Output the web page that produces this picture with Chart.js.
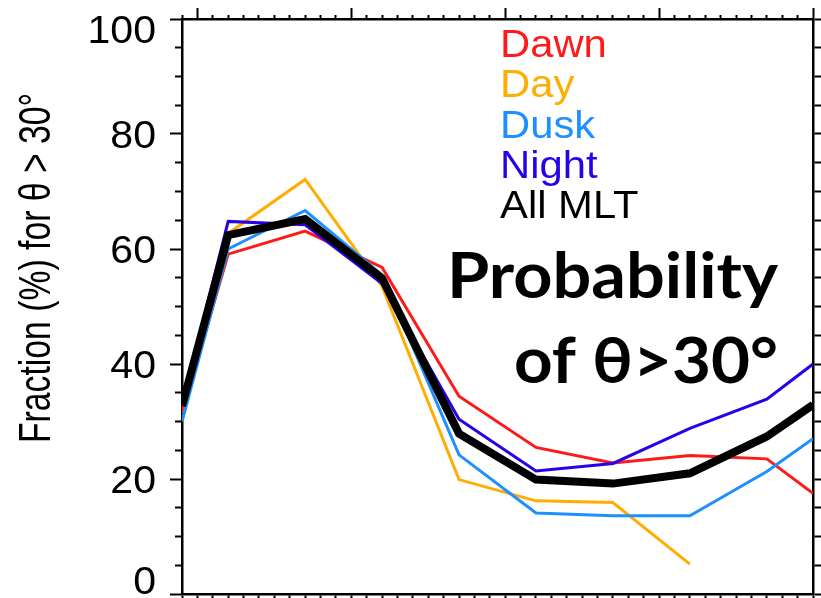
<!DOCTYPE html>
<html>
<head>
<meta charset="utf-8">
<script src="https://cdn.jsdelivr.net/npm/chart.js@4/dist/chart.umd.min.js"></script>
<style>
  html, body { margin: 0; padding: 0; background: #fff; }
  #wrap { width: 821px; height: 598px; }
</style>
</head>
<body>
<div id="wrap"><canvas id="c" width="821" height="598"></canvas></div>
<script>
// Bin positions along the horizontal axis; the first and last entries sit on the frame edges.
const xBins   = [-1, 2, 7, 12, 17, 22, 27, 32, 37, 40];
// Fraction (%) of events with theta > 30 deg, per MLT sector
const dawn    = [31.5, 59.1, 63.1, 56.8, 34.4, 25.5, 22.8, 24.1, 23.5, 17.5];
const day     = [31.5, 62.7, 72.1, 53.5, 19.9, 16.2, 15.9, 5.2, null, null];
const dusk    = [30.0, 60.0, 66.7, 55.5, 24.2, 14.1, 13.6, 13.6, 21.3, 27.0];
const night   = [33.0, 64.8, 64.2, 54.0, 30.4, 21.4, 22.7, 28.8, 33.9, 40.0];
const allMLT  = [32.7, 62.4, 65.2, 54.9, 27.9, 19.9, 19.2, 21.0, 27.4, 32.9];
const seriesNames  = ['Dawn', 'Day', 'Dusk', 'Night', 'All MLT'];
const seriesColors = ['#ff1a1a', '#ffad00', '#1e8fff', '#2a00e8', '#000000'];
const yTickLabels  = [0, 20, 40, 60, 80, 100];
const yTitle = 'Fraction (%) for \u03b8 > 30\u00b0';
const boxText = ['Probability', 'of \u03b8>30\u00b0'];

const frameFont = '"Liberation Sans", Arial, Helvetica, sans-serif';

const toPoints = arr => xBins.map((x, i) => ({ x, y: arr[i] }));

function series(i, arr, width, order) {
  return {
    label: seriesNames[i],
    data: toPoints(arr),
    borderColor: seriesColors[i],
    backgroundColor: seriesColors[i],
    borderWidth: width,
    pointRadius: 0,
    tension: 0,
    spanGaps: false,
    clip: 0,
    order
  };
}

// Tick marks: long at major steps, short otherwise (short ticks hug the axis line).
function tickGrid(majorEvery, majorLen, minorLen, outerFirst) {
  return {
    drawOnChartArea: false,
    drawTicks: true,
    tickLength: majorLen,
    tickWidth: 2,
    tickColor: '#000',
    tickBorderDash: ctx => {
      const v = ctx.tick ? ctx.tick.value : 0;
      const r = Math.abs(v % majorEvery);
      if (r < 1e-6 || Math.abs(r - majorEvery) < 1e-6) return [];
      return outerFirst ? [0, majorLen - minorLen, minorLen, 200] : [minorLen, 200];
    }
  };
}
const frameBorder = { display: true, color: '#000', width: 2.5 };

// Text layer: tick labels, rotated axis title, coloured key and the bold caption.
const textLayer = {
  id: 'textLayer',
  afterDraw(chart) {
    const ctx = chart.ctx;
    const area = chart.chartArea;
    const ys = chart.scales.y;

    ctx.save();
    ctx.fillStyle = '#000';
    ctx.textBaseline = 'alphabetic';

    // y tick labels, end labels kept inside the frame height
    ctx.font = '38px ' + frameFont;
    yTickLabels.forEach(v => {
      let cy = ys.getPixelForValue(v);
      cy = Math.min(Math.max(cy, area.top + 10), area.bottom - 14);
      ctx.save();
      ctx.translate(area.left - 26, cy + 0.358 * 38);
      ctx.scale(1.08, 1);
      ctx.textAlign = 'right';
      ctx.fillText(String(v), 0, 0);
      ctx.restore();
    });

    // rotated axis title
    ctx.font = '44px ' + frameFont;
    const tw = ctx.measureText(yTitle).width;
    ctx.save();
    ctx.translate(50, 268);
    ctx.rotate(-Math.PI / 2);
    ctx.scale(350 / tw, 1);
    ctx.textAlign = 'center';
    ctx.fillText(yTitle, 0, 0);
    ctx.restore();

    // key: one line per series in its own colour
    ctx.font = '38px ' + frameFont;
    chart.data.datasets.forEach((ds, i) => {
      ctx.save();
      ctx.fillStyle = ds.borderColor;
      ctx.translate(500, 57 + 40.25 * i);
      ctx.scale(1.1, 1);
      ctx.textAlign = 'left';
      ctx.fillText(ds.label, 0, 0);
      ctx.restore();
    });

    // bold caption
    ctx.font = 'bold 64px Lato, "Open Sans", sans-serif';
    const captions = [
      { t: boxText[0], left: 447, base: 298, w: 331 },
      { t: boxText[1], left: 514, base: 383, w: 264 }
    ];
    captions.forEach(c => {
      const m = ctx.measureText(c.t).width;
      ctx.save();
      ctx.translate(c.left, c.base);
      ctx.scale(c.w / m, 1);
      ctx.textAlign = 'left';
      ctx.fillStyle = '#000';
      ctx.fillText(c.t, 0, 0);
      ctx.restore();
    });

    ctx.restore();
  }
};

new Chart(document.getElementById('c'), {
  type: 'line',
  data: {
    datasets: [
      series(0, dawn, 3, 4),
      series(1, day, 3, 5),
      series(2, dusk, 3, 3),
      series(3, night, 3, 2),
      series(4, allMLT, 8, 0)
    ]
  },
  options: {
    responsive: false,
    devicePixelRatio: 1,
    animation: false,
    layout: { padding: 0 },
    plugins: { legend: { display: false }, tooltip: { enabled: false } },
    elements: { line: { borderJoinStyle: 'miter', borderCapStyle: 'butt' } },
    scales: {
      x: {
        type: 'linear', position: 'bottom', min: -1, max: 40,
        ticks: { display: false, stepSize: 1, autoSkip: false, maxTicksLimit: 100 },
        grid: tickGrid(10, 11, 4, false),
        border: frameBorder,
        afterFit: s => { s.height = 4; }
      },
      xTop: {
        type: 'linear', position: 'top', min: -1, max: 40,
        ticks: { display: false, stepSize: 1, autoSkip: false, maxTicksLimit: 100 },
        grid: tickGrid(10, 11, 4, true),
        border: frameBorder,
        afterFit: s => { s.height = 19; }
      },
      y: {
        type: 'linear', position: 'left', min: 0, max: 100,
        ticks: { display: false, stepSize: 5, autoSkip: false },
        grid: tickGrid(20, 12, 7, true),
        border: frameBorder,
        afterFit: s => { s.width = 182; }
      },
      yRight: {
        type: 'linear', position: 'right', min: 0, max: 100,
        ticks: { display: false, stepSize: 5, autoSkip: false },
        grid: tickGrid(20, 12, 7, false),
        border: frameBorder,
        afterFit: s => { s.width = 8; }
      }
    }
  },
  plugins: [textLayer]
});
</script>
</body>
</html>
